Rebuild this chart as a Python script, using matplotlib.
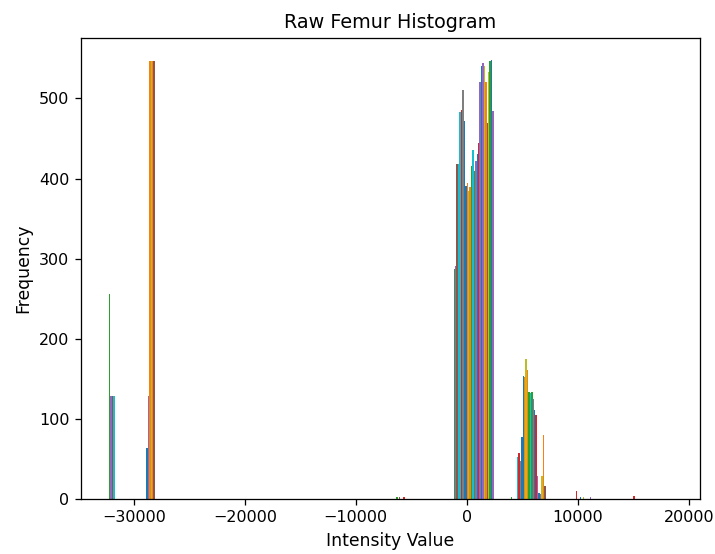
import matplotlib
matplotlib.use("Agg")
import matplotlib.pyplot as plt
import numpy as np

# histogram of the raw femur slice, one dataset per image column (32 columns, 10 bins)
value_min, value_max = -32768, 19000
n_bins = 10

zeros = [0] * 32
bin0 = [256, 128, 128, 128] + [0] * 22 + [64, 128, 547, 547, 547, 547]
bin5 = [2, 0, 3, 0, 0, 2] + [0] * 26
bin6 = [287, 291, 418, 418, 483, 486, 511, 472, 391, 394, 384, 389, 416, 435,
        410, 422, 430, 444, 520, 540, 544, 541, 520, 469, 533, 547, 548, 484,
        0, 0, 0, 0]
bin7 = [2, 0, 0, 0, 52, 58, 48, 77, 153, 152, 175, 161, 133, 132, 134, 125,
        111, 105, 29, 8, 6, 29, 80, 16, 0, 0, 0, 0, 0, 0, 0, 0]
bin8 = [0] * 5 + [10, 0, 0, 3, 0, 3] + [0] * 4 + [3] + [0] * 16
bin9 = [0] * 5 + [4] + [0] * 26

counts = np.array([bin0, zeros, zeros, zeros, zeros, bin5, bin6, bin7, bin8, bin9])

col_colors = ['C2', 'C4', 'C5', 'C9', 'C9', 'C3', 'C7', 'C0', 'C0', 'C1',
              'C8', 'C1', 'C2', 'C9', 'C2', 'C4', 'C0', 'C3', 'C4', 'C0',
              'C4', 'C8', 'C1', 'C5', 'C8', 'C2', 'C0', 'C4', 'C1', 'C8',
              'C1', 'C5']

edges = np.linspace(value_min, value_max, n_bins + 1)
centers = (edges[:-1] + edges[1:]) / 2
x = np.repeat(centers[:, None], counts.shape[1], axis=1)

fig = plt.figure(figsize=(715 / 115, 554 / 115), dpi=115)
ax = fig.add_axes([0.1129, 0.0993, 0.8662, 0.8321])

ax.hist(x, bins=edges, weights=counts, color=col_colors)

ax.set_title('Raw Femur Histogram', fontsize=12)
ax.set_xlabel('Intensity Value', fontsize=10.8)
ax.set_ylabel('Frequency', fontsize=10.8)
ax.tick_params(labelsize=10)

fig.savefig('out.png', dpi=115)
